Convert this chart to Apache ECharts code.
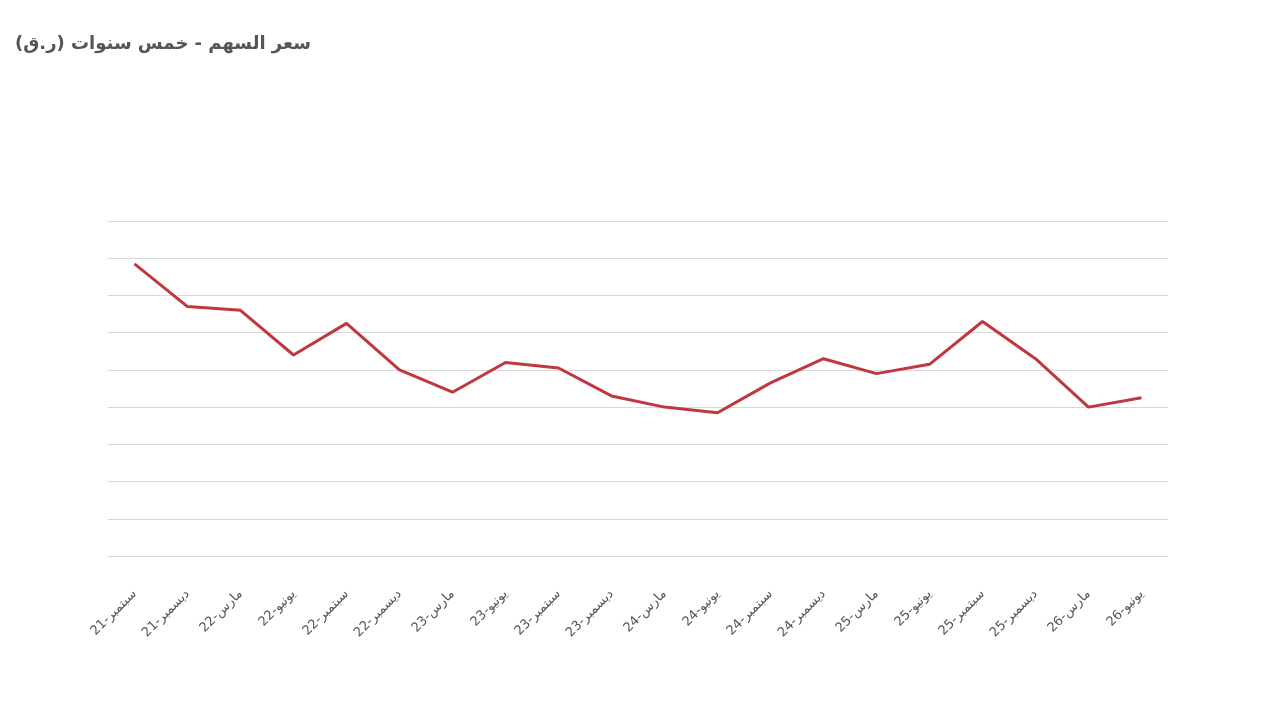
<!DOCTYPE html>
<html><head><meta charset="utf-8">
<script src="https://cdn.jsdelivr.net/npm/echarts@6/dist/echarts.min.js"></script>
<style>html,body{margin:0;background:#fff}#chart{width:1280px;height:720px}</style>
</head><body><div id="chart"></div>
<script>
const categories = ['سبتمبر-21','ديسمبر-21','مارس-22','يونيو-22','سبتمبر-22','ديسمبر-22','مارس-23','يونيو-23','سبتمبر-23','ديسمبر-23','مارس-24','يونيو-24','سبتمبر-24','ديسمبر-24','مارس-25','يونيو-25','سبتمبر-25','ديسمبر-25','مارس-26','يونيو-26'];
const prices = [1.57,1.34,1.32,1.08,1.25,1.00,0.88,1.04,1.01,0.86,0.80,0.77,0.93,1.06,0.98,1.03,1.26,1.06,0.80,0.85];

const chart = echarts.init(document.getElementById('chart'));
chart.setOption({
    title: {
        text: 'سعر السهم - خمس سنوات (ر.ق)',
        left: 10, top: 30,
        textStyle: {fontFamily: 'DejaVu Sans', fontSize: 18, fontWeight: 'bold', color: '#555'}
    },
    grid: {left: 108, right: 112, top: 221, bottom: 164},
    xAxis: {
        type: 'category',
        data: categories,
        axisLine: {show: false},
        axisTick: {show: false},
        axisLabel: {interval: 0, rotate: 45, color: '#555', fontSize: 13, fontFamily: 'DejaVu Sans', margin: 36}
    },
    yAxis: {
        type: 'value', min: 0, max: 1.8, interval: 0.2,
        axisLabel: {show: false},
        splitLine: {lineStyle: {color: '#d9d9d9'}}
    },
    series: [{
        type: 'line',
        data: prices,
        symbol: 'circle',
        symbolSize: 1,
        showSymbol: true,
        itemStyle: {opacity: 0},
        lineStyle: {color: '#c0373f', width: 3},
        label: {
            show: true, position: 'top', rotate: -90, distance: 8,
            align: 'left', verticalAlign: 'middle',
            color: '#c00000', fontSize: 15, fontFamily: 'Liberation Sans',
            formatter: p => p.value.toFixed(2)
        }
    }]
});
</script></body></html>
